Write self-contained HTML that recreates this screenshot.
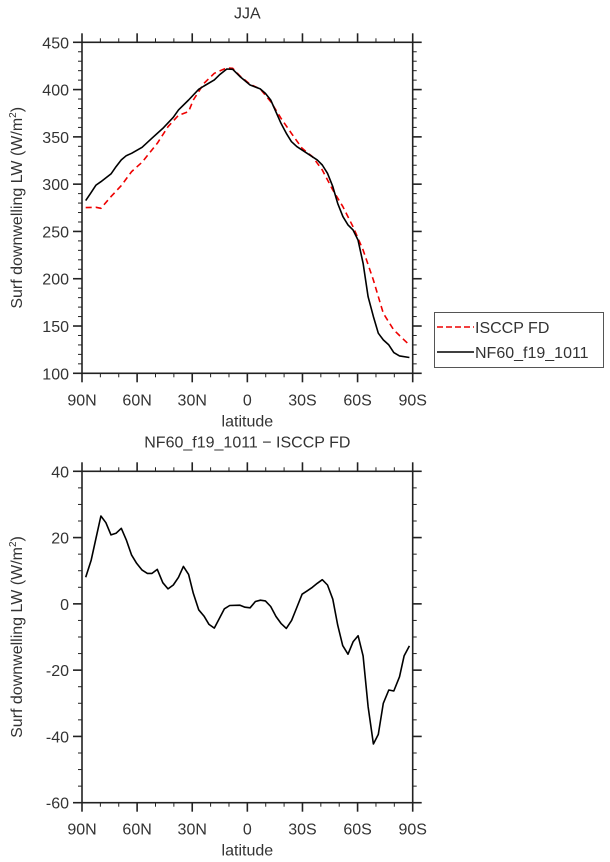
<!DOCTYPE html>
<html><head><meta charset="utf-8"><style>
html,body{margin:0;padding:0;background:#fff;}
svg{display:block;font-family:"Liberation Sans",sans-serif;}
text{fill:#333;}
</style></head><body>
<svg id="c" width="610" height="862" viewBox="0 0 610 862"></svg>
<script>
const latTickLabels=["90N","60N","30N","0","30S","60S","90S"];
const topYTicks=[100,150,200,250,300,350,400,450];
const botYTicks=[-60,-40,-20,0,20,40];
const nfLat=[88,85.3,82.4,79.7,74.2,71.5,68.6,66,63,57.3,52,46,40.3,37.5,32,26.5,23.6,18,15.2,11.2,8,4,-1.5,-7,-9.8,-12.7,-18.3,-21.2,-24,-26.9,-32.5,-38,-40.8,-43.6,-46.5,-49.2,-52,-54.8,-57.5,-60.2,-63,-65.7,-68.6,-71.3,-74,-77,-79.7,-82.8,-88.2];
const nfVal=[282.6,290.3,299,302.6,310.8,318.5,325.6,330,332.6,339,348.5,359,370.7,378.5,389,400.3,403.8,410.2,415.5,421.8,421.5,413.7,404.9,400.7,396,389,364.3,353.8,345,339.7,332.6,325.6,320.3,311.5,297.4,279.7,265.7,256.9,251.6,241,216.3,181,160,142.4,135.3,130,121.9,118.4,116.7];
const isLat=[88,82.4,79.7,74.2,68.6,63,57.3,49,43.2,37.5,32,29.4,23.6,18,11.2,8,4,-1.5,-7,-12.7,-18.3,-24,-29.8,-35.4,-40.8,-46.5,-52,-57.5,-63,-68.6,-74,-79.7,-85.3,-88.2];
const isVal=[275.2,275.5,274.5,286.8,298.5,313.3,323.2,343.2,360.8,372.8,376.7,389,406.6,417.2,422.9,422.5,414.4,405.6,400.7,387.3,369.6,353.8,337.9,329.1,315,293.8,276.2,255,230.4,198.6,163.4,145.8,135.3,130];
const dLat=[88,85,82.4,79.7,77,74.2,71.5,68.6,65.9,63,60.2,57.3,54.4,51.9,49,46,43.2,40.3,37.5,34.8,32,29.4,26.5,23.6,20.9,18,15.2,12.5,9.6,4,1.3,-1.5,-4.4,-7.1,-9.8,-12.7,-15.6,-18.3,-21.2,-24.1,-26.9,-29.8,-32.5,-35.4,-38.1,-40.8,-43.6,-46.5,-49.2,-51.9,-54.8,-57.6,-60.3,-63,-65.7,-68.6,-71.3,-74,-77,-79.7,-82.8,-85.3,-88.2];
const dVal=[8,13.2,19.8,26.5,24.5,20.8,21.3,22.8,19.3,14.7,12.2,10.2,9.2,9.2,10.4,6.4,4.5,5.7,8,11.3,8.9,3.2,-1.8,-3.7,-6.2,-7.3,-4.4,-1.5,-0.5,-0.4,-1,-1.2,0.7,1.1,0.9,-0.8,-3.8,-5.9,-7.4,-5,-1.1,2.9,3.9,5,6.2,7.3,5.7,1.4,-6.4,-12.6,-15.2,-11.4,-9.6,-15.7,-31,-42.3,-39.4,-30,-26,-26.3,-22,-15.7,-12.7];

const NS="http://www.w3.org/2000/svg";
const svg=document.getElementById('c');
function mk(tag,attrs,parent){const e=document.createElementNS(NS,tag);for(const k in attrs)e.setAttribute(k,attrs[k]);(parent||svg).appendChild(e);return e;}
const L=82,R=412.7;
const xS=lat=>L+(90-lat)/180*(R-L);

function panel(top,bot,ymin,ymax,yticks,minorStep,name,title){
  const g=mk('g',{});
  
  
  const yS=v=>bot-(v-ymin)/(ymax-ymin)*(bot-top);
  const frame=mk('rect',{x:L,y:top,width:R-L,height:bot-top,fill:'none',stroke:'#222','stroke-width':1.6},g);
  
  
  for(let lat=90;lat>=-90;lat-=10){
    const x=xS(lat),maj=lat%30===0,len=maj?9:4;
    mk('line',{x1:x,x2:x,y1:bot,y2:bot+len,stroke:'#222','stroke-width':maj?1.6:1},g);
    mk('line',{x1:x,x2:x,y1:top,y2:top-len,stroke:'#222','stroke-width':maj?1.6:1},g);
  }
  latTickLabels.forEach((t,i)=>{
    const tx=mk('text',{x:xS(90-30*i),y:bot+32,'font-size':16,'text-anchor':'middle'},g);
    tx.textContent=t;
    
    
  });
  for(let v=ymin;v<=ymax+1e-6;v+=minorStep){
    const y=yS(v),maj=yticks.some(t=>Math.abs(t-v)<1e-6),len=maj?9:4;
    mk('line',{x1:L,x2:L-len,y1:y,y2:y,stroke:'#222','stroke-width':maj?1.6:1},g);
    mk('line',{x1:R,x2:R+len,y1:y,y2:y,stroke:'#222','stroke-width':maj?1.6:1},g);
  }
  yticks.forEach(v=>{
    const tx=mk('text',{x:L-13,y:yS(v)+6,'font-size':16,'text-anchor':'end'},g);
    tx.textContent=v;
    
    
  });
  const xl=mk('text',{x:(L+R)/2,y:bot+53,'font-size':16,'text-anchor':'middle'},g);
  xl.textContent='latitude';
  
  
  const cy=(top+bot)/2;
  const yl=mk('text',{x:22,y:cy,'font-size':16,'text-anchor':'middle',transform:`rotate(-90 22 ${cy})`},g);
  yl.innerHTML='Surf downwelling LW (W/m<tspan dy="-6" font-size="10">2</tspan><tspan dy="6">)</tspan>';
  
  
  const tt=mk('text',{x:(L+R)/2,y:top-24,'font-size':16,'text-anchor':'middle'},g);
  tt.textContent=title;
  
  
  return {g,yS};
}
function series(p,lats,vals,color,dash,name){
  const d=lats.map((la,i)=>(i?'L':'M')+xS(la).toFixed(1)+' '+p.yS(vals[i]).toFixed(1)).join(' ');
  const path=mk('path',{d:d,fill:'none',stroke:color,'stroke-width':1.6,'stroke-dasharray':dash||'none','stroke-linejoin':'round'},p.g);
  
  
}
const p1=panel(42.3,373.3,100,450,topYTicks,10,'top-panel','JJA');
series(p1,isLat,isVal,'#e00','6 4','isccp-fd-line');
series(p1,nfLat,nfVal,'#000',null,'nf60-line');
const p2=panel(471.3,802.7,-60,40,botYTicks,5,'bottom-panel','NF60_f19_1011 \u2212 ISCCP FD');
series(p2,dLat,dVal,'#000',null,'difference-line');

const lg=mk('g',{});


mk('rect',{x:434.5,y:312.5,width:169,height:55,fill:'#fff',stroke:'#555','stroke-width':1},lg);
mk('line',{x1:437,x2:474,y1:327,y2:327,stroke:'#e00','stroke-width':1.5,'stroke-dasharray':'6 3'},lg);
mk('line',{x1:437,x2:474,y1:352,y2:352,stroke:'#000','stroke-width':1.5},lg);
const e1=mk('text',{x:475,y:333,'font-size':16},lg);e1.textContent='ISCCP FD';


const e2=mk('text',{x:475,y:358,'font-size':16},lg);e2.textContent='NF60_f19_1011';


</script>
</body></html>
